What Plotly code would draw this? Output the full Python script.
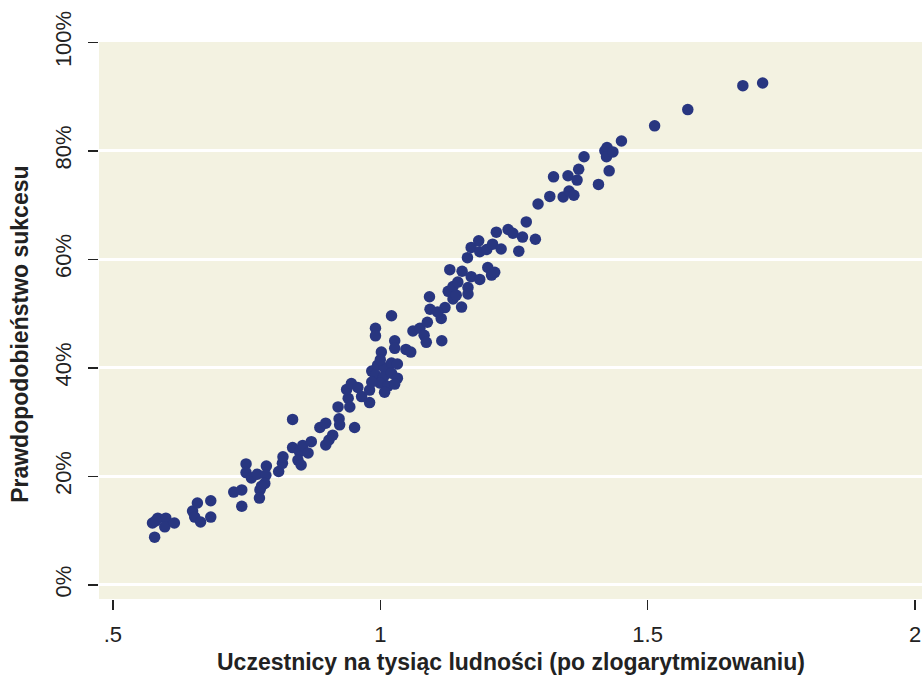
import plotly.graph_objects as go

# log participants per thousand inhabitants
x_vals = [
    0.578, 0.574, 0.584, 0.599, 0.597, 0.615, 0.580,
    0.649, 0.658, 0.653, 0.664, 0.683, 0.683,
    0.726, 0.741, 0.741,
    0.749, 0.749, 0.759, 0.770, 0.787, 0.786, 0.784, 0.775, 0.774, 0.778,
    0.810, 0.817, 0.818, 0.836, 0.836, 0.849, 0.846, 0.852, 0.855, 0.865,
    0.871, 0.887, 0.898, 0.898, 0.904, 0.911, 0.921, 0.923, 0.924, 0.940,
    0.943, 0.952, 0.937, 0.946, 0.958, 0.965, 0.980, 0.980,
    0.984, 0.995, 1.008, 1.021, 1.032, 0.991, 1.006, 1.021, 1.032, 0.999,
    1.014, 1.027, 0.984, 1.008, 0.991, 0.991, 1.002, 1.000, 1.021, 1.027,
    1.027, 1.048, 1.057, 1.061, 1.074, 1.082, 1.086, 1.088, 1.093, 1.114,
    1.115, 1.121, 1.107,
    1.092, 1.127, 1.130, 1.136, 1.136, 1.142, 1.145, 1.152, 1.153, 1.163,
    1.164, 1.164, 1.170, 1.170, 1.184, 1.186, 1.186, 1.199, 1.201, 1.210,
    1.208, 1.214, 1.226, 1.217, 1.239, 1.248, 1.266, 1.259, 1.273, 1.290,
    1.295, 1.317, 1.342, 1.353, 1.362, 1.324, 1.351, 1.368, 1.371, 1.381,
    1.408, 1.420, 1.424, 1.423, 1.435, 1.428, 1.451, 1.513, 1.575, 1.678,
    1.715,
]

# probability of success (%)
y_vals = [
    8.8, 11.4, 12.3, 12.3, 10.7, 11.4, 11.8,
    13.6, 15.1, 12.5, 11.6, 15.5, 12.5,
    17.1, 17.5, 14.5,
    22.3, 20.7, 19.7, 20.4, 21.9, 20.2, 18.7, 17.5, 16.0, 18.2,
    20.9, 22.4, 23.6, 25.3, 30.5, 24.5, 23.0, 22.1, 25.7, 24.3,
    26.4, 29.0, 29.8, 25.8, 26.7, 27.6, 32.8, 30.6, 29.5, 34.4,
    32.8, 29.0, 36.0, 37.1, 36.4, 34.7, 35.9, 33.6,
    39.4, 40.5, 40.0, 40.9, 40.7, 38.7, 38.3, 39.0, 38.1, 37.2,
    36.6, 37.0, 37.4, 35.5, 47.3, 45.9, 42.9, 41.5, 49.6, 45.0,
    43.6, 43.4, 42.9, 46.8, 47.3, 46.0, 44.7, 48.4, 50.8, 49.1,
    45.0, 51.1, 50.3,
    53.1, 54.1, 58.1, 55.0, 52.7, 53.4, 55.8, 51.2, 57.8, 60.3,
    54.8, 53.6, 56.8, 62.2, 63.4, 61.4, 56.3, 61.8, 58.5, 62.8,
    57.1, 57.6, 61.9, 65.0, 65.5, 64.8, 64.1, 61.5, 66.9, 63.7,
    70.2, 71.6, 71.5, 72.6, 71.8, 75.2, 75.4, 74.6, 76.6, 78.9,
    73.8, 80.0, 80.6, 78.9, 79.8, 76.3, 81.8, 84.6, 87.6, 92.0,
    92.5,
]

x_tickvals = [0.5, 1, 1.5, 2]
x_ticktext = [".5", "1", "1.5", "2"]
y_tickvals = [0, 20, 40, 60, 80, 100]
y_ticktext = ["0%", "20%", "40%", "60%", "80%", "100%"]

x_title = "Uczestnicy na tysiąc ludności (po zlogarytmizowaniu)"
y_title = "Prawdopodobieństwo sukcesu"

fig = go.Figure()
fig.add_trace(go.Scatter(
    x=x_vals, y=y_vals, mode="markers",
    marker=dict(size=11.5, color="#283680", line=dict(width=0)),
    hoverinfo="skip", showlegend=False,
))

tick_font = dict(family="Liberation Sans, Arial, sans-serif", size=22, color="#222222")
title_font = dict(family="Liberation Sans, Arial, sans-serif", size=23, color="#222222")

fig.update_layout(
    width=922, height=675,
    margin=dict(l=99, r=0, t=42, b=76),
    paper_bgcolor="white",
    plot_bgcolor="#F3F2E1",
    xaxis=dict(
        range=[0.474, 2.013], automargin=False,
        tickvals=x_tickvals, ticktext=x_ticktext,
        ticks="outside", ticklen=10, tickwidth=1.5, tickcolor="#222222",
        showgrid=False, zeroline=False, showline=False,
        tickfont=tick_font, ticklabelstandoff=6,
    ),
    yaxis=dict(
        range=[-2.6, 100.05], automargin=False,
        tickvals=y_tickvals, ticktext=y_ticktext,
        ticks="outside", ticklen=10, tickwidth=1.5, tickcolor="#222222",
        showgrid=True, gridcolor="white", gridwidth=3,
        zeroline=False, showline=False,
        tickfont=tick_font, tickangle=-90, ticklabelstandoff=8,
    ),
    annotations=[
        dict(text="<b>" + x_title + "</b>", xref="paper", yref="paper",
             x=0.5, y=-0.113, xanchor="center", yanchor="middle",
             showarrow=False, font=title_font),
        dict(text="<b>" + y_title + "</b>", xref="paper", yref="paper",
             x=-0.096, y=0.476, xanchor="center", yanchor="middle",
             textangle=-90, showarrow=False, font=title_font),
    ],
)

fig.write_html(
    "out.html",
    config={"displayModeBar": False, "staticPlot": True},
    post_script="document.body.style.margin='0';document.body.style.overflow='hidden';",
)
